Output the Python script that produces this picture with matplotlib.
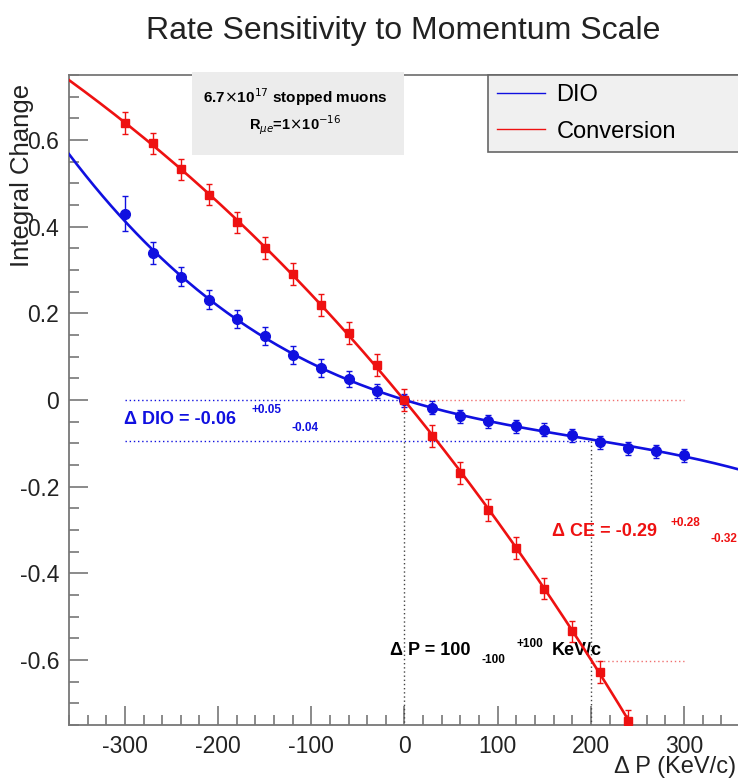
import numpy as np
import matplotlib
matplotlib.use('Agg')
import matplotlib.pyplot as plt
from matplotlib.lines import Line2D
from matplotlib.patches import Rectangle
from matplotlib.ticker import MultipleLocator

plt.rcParams['font.family'] = ['Liberation Sans', 'DejaVu Sans']
plt.rcParams['axes.unicode_minus'] = False

# momentum shift (KeV/c)
dp = np.arange(-300, 301, 30)

dio_change = [0.43, 0.34, 0.284, 0.231, 0.187, 0.148, 0.104, 0.074, 0.049, 0.021, 0.0,
              -0.018, -0.037, -0.049, -0.06, -0.069, -0.081, -0.097, -0.111, -0.118, -0.127]
dio_err = [0.04, 0.025, 0.022, 0.022, 0.02, 0.02, 0.02, 0.02, 0.018, 0.016, 0.015,
           0.015, 0.015, 0.015, 0.015, 0.015, 0.015, 0.015, 0.015, 0.015, 0.015]

ce_dp = np.arange(-300, 241, 30)
ce_change = [0.64, 0.592, 0.532, 0.474, 0.41, 0.351, 0.291, 0.22, 0.155, 0.081, 0.0,
             -0.083, -0.169, -0.254, -0.342, -0.435, -0.534, -0.627, -0.74]
ce_err = [0.025] * len(ce_change)

# reference lines
dio_lo = -0.094
ce_at_200 = -0.603
dp_shift = 200

BLUE = '#1010e0'
RED = '#ee1111'
GRAY = '#777777'

fig = plt.figure(figsize=(7.38, 7.82), dpi=100)
ax = fig.add_axes([69 / 738, 1 - 725 / 782, 671 / 738, 650 / 782])
ax.set_xlim(-360, 360)
ax.set_ylim(-0.75, 0.75)

# fits
xf = np.linspace(-360, 360, 400)
dio_fit = np.polyval(np.polyfit(dp, dio_change, 3, w=1 / np.array(dio_err)), xf)
ce_fit = np.polyval(np.polyfit(ce_dp, ce_change, 3, w=1 / np.array(ce_err)), xf)
ax.plot(xf, dio_fit, color=BLUE, lw=1.9, zorder=4)
ax.plot(xf, ce_fit, color=RED, lw=1.9, zorder=4)

ax.errorbar(dp, dio_change, yerr=dio_err, fmt='o', color=BLUE, ms=7, elinewidth=1,
            capsize=2, capthick=1, zorder=5)
ax.errorbar(ce_dp, ce_change, yerr=ce_err, fmt='s', color=RED, ms=6, elinewidth=1,
            capsize=2, capthick=1, zorder=5)

dot = (0, (1, 2))
ax.plot([-300, 0], [0, 0], color=BLUE, lw=1, ls=dot, zorder=3)
ax.plot([0, 300], [0, 0], color='#f07070', lw=1, ls=dot, zorder=3)
ax.plot([-300, dp_shift], [dio_lo, dio_lo], color=BLUE, lw=1, ls=dot, zorder=3)
ax.plot([dp_shift, 300], [ce_at_200, ce_at_200], color='#f07070', lw=1, ls=dot, zorder=3)
ax.plot([0, 0], [0, -0.75], color='#444444', lw=1, ls=dot, zorder=3)
ax.plot([dp_shift, dp_shift], [dio_lo, -0.75], color='#444444', lw=1, ls=dot, zorder=3)

# annotations
big, small = 13, 8.5
ax.text(-301, -0.046, 'Δ DIO = -0.06', color=BLUE, fontsize=big, fontweight='bold', va='center')
ax.text(-164, -0.023, '+0.05', color=BLUE, fontsize=small, fontweight='bold', va='center')
ax.text(-121, -0.065, '-0.04', color=BLUE, fontsize=small, fontweight='bold', va='center')
ax.text(158, -0.303, 'Δ CE = -0.29', color=RED, fontsize=big, fontweight='bold', va='center')
ax.text(285, -0.284, '+0.28', color=RED, fontsize=small, fontweight='bold', va='center')
ax.text(328, -0.321, '-0.32', color=RED, fontsize=small, fontweight='bold', va='center',
        clip_on=True)
ax.text(-16, -0.578, 'Δ P = 100', color='black', fontsize=big, fontweight='bold', va='center')
ax.text(83, -0.601, '-100', color='black', fontsize=small, fontweight='bold', va='center')
ax.text(120, -0.562, '+100', color='black', fontsize=small, fontweight='bold', va='center')
ax.text(158, -0.578, 'KeV/c', color='black', fontsize=big, fontweight='bold', va='center')

# info box
ax.add_patch(Rectangle((-228, 0.566), 228, 0.19, facecolor='#ececec', edgecolor='none',
                       zorder=6, clip_on=False))
ax.text(-117, 0.698, r'6.7$\times$10$^{17}$ stopped muons', fontsize=11, fontweight='bold',
        ha='center', va='center', zorder=7)
ax.text(-117, 0.634, r'R$_{\mu e}$=1$\times$10$^{-16}$', fontsize=10.5, fontweight='bold',
        ha='center', va='center', zorder=7)

# legend
handles = [Line2D([], [], color=BLUE, lw=1), Line2D([], [], color=RED, lw=1)]
leg = ax.legend(handles, ['DIO', 'Conversion'], loc='upper left',
                bbox_to_anchor=(419 / 671, 1 - 85 / 650, 260 / 671, 85 / 650), mode='expand',
                borderaxespad=0, fontsize=17, fancybox=False, framealpha=1,
                facecolor='#f0f0f0', edgecolor='#666666', handlelength=2.0,
                handletextpad=0.5, labelspacing=0.6, borderpad=0.4)
leg.set_zorder(8)
leg.get_frame().set_linewidth(1.2)

# axes styling
for side in ['left', 'bottom', 'top', 'right']:
    ax.spines[side].set_color(GRAY)
    ax.spines[side].set_linewidth(1.3)
ax.xaxis.set_major_locator(MultipleLocator(100))
ax.xaxis.set_minor_locator(MultipleLocator(20))
ax.yaxis.set_major_locator(MultipleLocator(0.2))
ax.yaxis.set_minor_locator(MultipleLocator(0.05))
ax.tick_params(which='both', direction='in', colors=GRAY, labelcolor='#222222',
               labelsize=16.5, top=False, right=False)
ax.tick_params(which='major', length=14, width=1.2, pad=7)
ax.tick_params(which='minor', length=7, width=1.2)
ax.set_yticks([-0.6, -0.4, -0.2, 0, 0.2, 0.4, 0.6])
ax.set_yticklabels(['-0.6', '-0.4', '-0.2', '0', '0.2', '0.4', '0.6'])

fig.text(403 / 738, 1 - 31 / 782, 'Rate Sensitivity to Momentum Scale', fontsize=23,
         ha='center', va='center', color='#222222')
fig.text(22 / 738, 1 - 175 / 782, 'Integral Change', fontsize=18.5, rotation=90,
         ha='center', va='center', color='#222222')
fig.text(736 / 738, 1 - 767 / 782, 'Δ P (KeV/c)', fontsize=17, ha='right', va='center',
         color='#222222')

fig.savefig('out.png', dpi=100)
